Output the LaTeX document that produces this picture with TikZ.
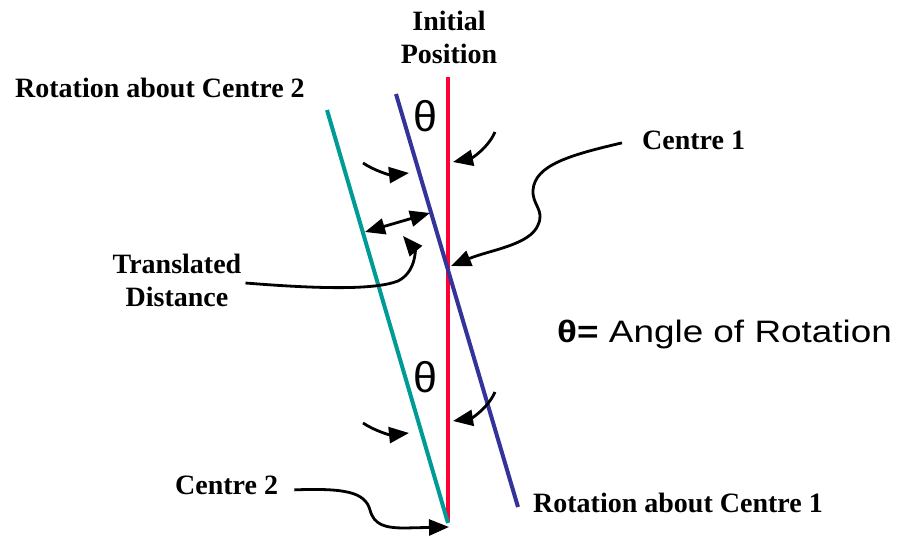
\documentclass[tikz,border=0pt]{standalone}
\usepackage{fontspec}
\setmainfont{Liberation Serif}
\newfontfamily\sansf{Liberation Sans}
\usetikzlibrary{arrows.meta}
\definecolor{redline}{RGB}{255,0,51}
\definecolor{blueline}{RGB}{51,51,153}
\definecolor{tealline}{RGB}{0,155,150}
\begin{document}
\begin{tikzpicture}[x=1pt,y=-1pt,
  lbl/.style={font=\fontsize{28}{33}\selectfont\bfseries, inner sep=0pt, align=center},
  thetalbl/.style={font=\sansf\fontsize{43}{43}\selectfont, inner sep=0pt},
  colline/.style={line width=4pt},
  tip/.style={Triangle[length=22pt,width=17pt]},
  arr/.style={line width=2.8pt, -{Triangle[length=20pt,width=16pt]}},
  dblarr/.style={line width=2.8pt, {Triangle[length=20pt,width=16pt]}-{Triangle[length=20pt,width=16pt]}}]
\useasboundingbox[fill=white] (0,0) rectangle (898,537);
% lines
\coordinate (r1) at (448,77);  \coordinate (r2) at (448,522);
\coordinate (b1) at (396,94);  \coordinate (b2) at (518,507);
\coordinate (t1) at (327,110); \coordinate (t2) at (448,523);
\draw[colline, redline] (r1) -- (r2);
\draw[colline, tealline] (t1) -- (t2);
\draw[colline, blueline] (b1) -- (b2);
% labels
\node[lbl] (init) at (449,37) {Initial\\Position};
\node[lbl, anchor=base west] (rot2) at (15,98) {Rotation about Centre 2};
\node[lbl, anchor=base west] (c1) at (642,150) {Centre 1};
\node[lbl] (trans) at (177,280) {Translated\\Distance};
\node[lbl, anchor=base west] (c2) at (175,495) {Centre 2};
\node[lbl, anchor=base west] (rot1) at (533,513) {Rotation about Centre 1};
\node[inner sep=0pt, anchor=base west] (angle) at (557,343)
  {\sansf\fontsize{31}{31}\selectfont\scalebox{1.19}[1]{{\bfseries θ=} Angle of Rotation}};
\node[thetalbl] (th1) at (425,116) {θ};
\node[thetalbl] (th2) at (425,377) {θ};
% connector end points
\coordinate (ul1) at (363,163); \coordinate (ul2) at (409,173);
\coordinate (ur1) at (495,132); \coordinate (ur2) at (453,162);
\coordinate (ll1) at (363,423); \coordinate (ll2) at (409,433);
\coordinate (lr1) at (495,392); \coordinate (lr2) at (453,421);
\coordinate (d1) at (365,232);  \coordinate (d2) at (430,213);
\coordinate (tdtip) at (403,236);
\coordinate (c1tip) at (451,266);
\coordinate (c2tip) at (449,527);
% small arrows
\draw[arr] (ul1) .. controls (375,171) and (390,175) .. (ul2);
\draw[arr] (ur1) .. controls (488,148) and (472,158) .. (ur2);
\draw[arr] (ll1) .. controls (375,431) and (390,435) .. (ll2);
\draw[arr] (lr1) .. controls (488,408) and (472,418) .. (lr2);
\draw[dblarr] (d1) -- (d2);
% label connectors
\draw[arr] ([xshift=4pt,yshift=-3pt]trans.east) .. controls (320,289) and (375,290) .. (398,281)
   .. controls (416,272) and (415,250) .. (tdtip);
\draw[arr] ([xshift=-20pt,yshift=-2pt]c1.west) .. controls (570,155) and (535,165) .. (533,190)
   .. controls (532,205) and (545,210) .. (538,225)
   .. controls (530,245) and (490,250) .. (c1tip);
\draw[arr] ([xshift=16pt,yshift=-4pt]c2.east) .. controls (345,488) and (365,492) .. (370,510)
   .. controls (374,525) and (385,528) .. (405,528) -- (c2tip);
\end{tikzpicture}
\end{document}
